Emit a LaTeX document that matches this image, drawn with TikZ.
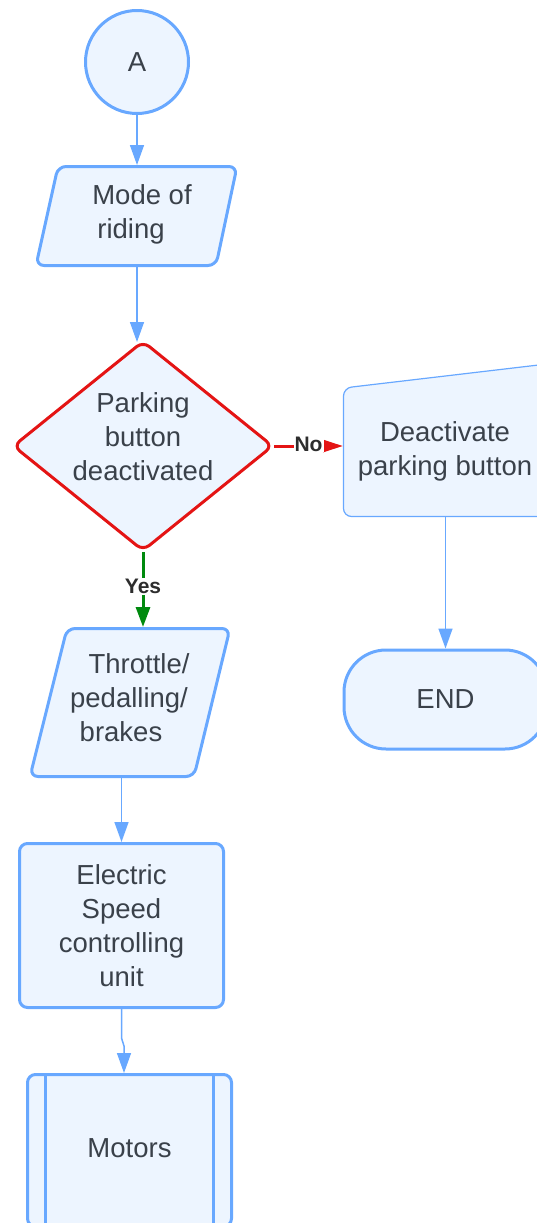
\documentclass[tikz,border=0pt]{standalone}
\usepackage{fontspec}
\setmainfont{Liberation Sans}
\usetikzlibrary{arrows.meta}
\definecolor{edgeblue}{RGB}{104,168,255}
\definecolor{boxfill}{RGB}{237,245,255}
\definecolor{txt}{RGB}{58,65,74}
\definecolor{tagtxt}{RGB}{45,45,45}
\definecolor{decred}{RGB}{228,20,20}
\definecolor{yesgreen}{RGB}{0,138,14}
\begin{document}
\begin{tikzpicture}[x=1pt,y=-1pt,
  lbl/.style={font=\fontsize{27.5}{34}\selectfont, text=txt, align=center, inner sep=0pt},
  shapebox/.style={draw=edgeblue, fill=boxfill, line width=3pt, line join=round},
  flow/.style={draw=edgeblue, line width=1.5pt, -{Triangle[width=14pt,length=20pt]}},
  tag/.style={font=\fontsize{21}{24}\selectfont\bfseries, text=tagtxt, fill=white, inner sep=1pt}
]
\useasboundingbox (0,0) rectangle (537,1223);
\clip (0,0) rectangle (537,1223);

% start connector
\node[circle, shapebox, minimum size=103pt, lbl] (A) at (137,62) {A};

% input: mode of riding
\draw[shapebox, rounded corners=8pt] (58,166.5) -- (237,166.5) -- (216,265.5) -- (36,265.5) -- cycle;
\node[lbl] (mode) at (136.5,214.5) {\hspace*{11pt}Mode of\\riding\hspace*{11pt}};

% decision
\draw[draw=decred, fill=boxfill, line width=3pt, rounded corners=8pt]
  (143,341.5) -- (272.5,446) -- (143,550.5) -- (13.5,446) -- cycle;
\node[lbl] (dec) at (143,437) {Parking\\button\\deactivated};

% manual operation: deactivate parking button
\draw[draw=edgeblue, fill=boxfill, line width=1.2pt, rounded corners=8pt]
  (343.5,388) -- (547,364) -- (547,516.5) -- (343.5,516.5) -- cycle;
\node[lbl] (deac) at (445,451.5) {Deactivate\\parking button};

% terminator
\node[shapebox, rectangle, rounded corners=42pt, minimum width=203pt, minimum height=99pt, lbl]
  (end) at (445.5,699.5) {END};

% input: throttle / pedalling / brakes
\draw[shapebox, rounded corners=8pt] (67,628.5) -- (230,628.5) -- (194,776.5) -- (30,776.5) -- cycle;
\node[lbl] (thr) at (129,697.5) {\hspace*{20pt}Throttle/\\pedalling/\\brakes\hspace*{16pt}};

% process: speed controller
\node[shapebox, rectangle, rounded corners=8pt, minimum width=204pt, minimum height=164pt, lbl]
  (esc) at (121.5,925.5) {Electric\\Speed\\controlling\\unit};

% predefined process: motors
\node[shapebox, rectangle, rounded corners=8pt, minimum width=204pt, minimum height=152pt, lbl]
  (mot) at (129.5,1150.5) {\raisebox{5.5pt}{Motors}};
\draw[edgeblue, line width=3pt] ([xshift=19.5pt]mot.north west) -- ([xshift=19.5pt]mot.south west);
\draw[edgeblue, line width=3pt] ([xshift=-19.5pt]mot.north east) -- ([xshift=-19.5pt]mot.south east);

% connection points
\coordinate (modeT) at (137,165);
\coordinate (modeB) at (137,267);
\coordinate (decT) at (137,342);
\coordinate (decR) at (274,446);
\coordinate (decB) at (143,552);
\coordinate (deacL) at (343,446);
\coordinate (deacB) at (445.5,517);
\coordinate (thrT) at (143,627);
\coordinate (thrB) at (121.5,778);
\coordinate (jogA) at (121.5,1038);
\coordinate (jogB) at (124,1046);
\coordinate (motT) at (124,1073);

% connectors
\draw[flow] (A.south) -- (modeT);
\draw[flow] (modeB) -- (decT);
\draw[flow] (deacB) -- (end.north);
\draw[flow] (thrB) -- (esc.north);
\draw[flow] (esc.south) -- (jogA) -- (jogB) -- (motT);
\draw[decred, line width=3pt, -{Triangle[width=12pt,length=20pt]}]
  (decR) -- node[tag, yshift=2pt] (no) {No} (deacL);
\draw[yesgreen, line width=3pt, -{Triangle[width=14pt,length=20pt]}]
  (decB) -- node[tag, yshift=3pt] (yes) {Yes} (thrT);
\end{tikzpicture}
\end{document}
